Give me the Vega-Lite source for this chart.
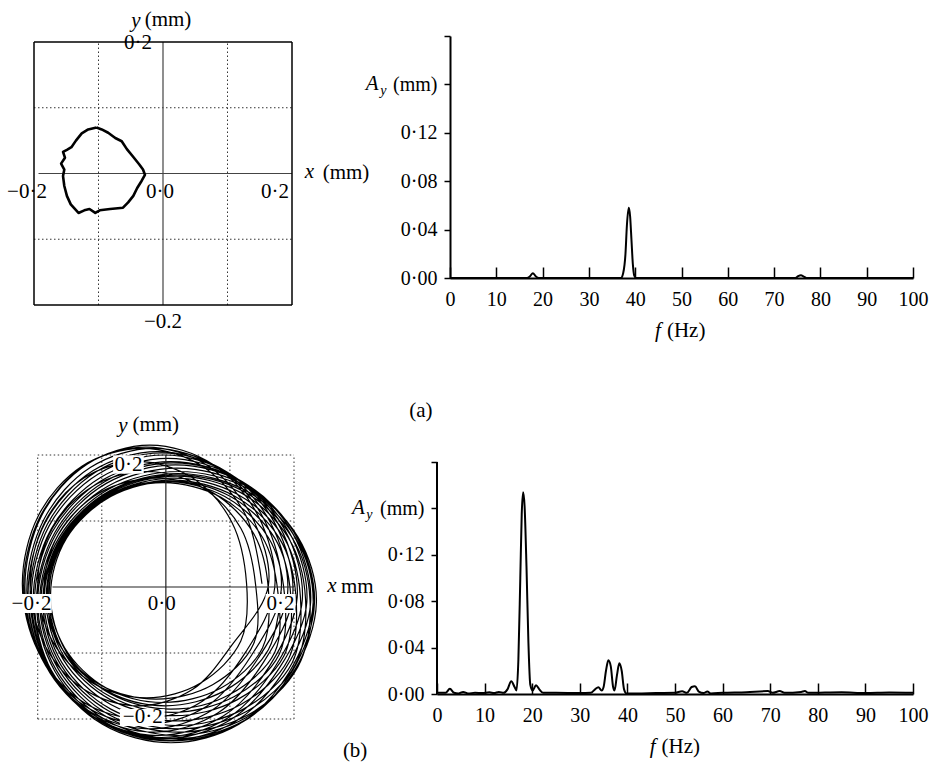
{
  "$schema": "https://vega.github.io/schema/vega-lite/v6.json",
  "padding": {"left": 7, "top": 8, "right": 4, "bottom": 4},
  "autosize": {"type": "pad"},
  "background": "white",
  "bounds": "flush",
  "spacing": 419,
  "config": {
    "view": {"stroke": null},
    "font": "Liberation Serif",
    "text": {"font": "Liberation Serif", "color": "black"},
    "axis": {"labelFont": "Liberation Serif", "labelColor": "black", "domainColor": "black", "tickColor": "black", "grid": false, "title": null, "labelFlush": false, "labelOverlap": false}
  },
  "datasets": {
    "frameA": [
      {"x": -0.2, "y": -0.2, "x2": 0.2, "y2": -0.2},
      {"x": -0.2, "y": 0.2, "x2": 0.2, "y2": 0.2},
      {"x": -0.2, "y": -0.2, "x2": -0.2, "y2": 0.2},
      {"x": 0.2, "y": -0.2, "x2": 0.2, "y2": 0.2}
    ],
    "gridA": [
      {"x": -0.1, "y": -0.2, "x2": -0.1, "y2": 0.2},
      {"x": 0.1, "y": -0.2, "x2": 0.1, "y2": 0.2},
      {"x": -0.2, "y": -0.1, "x2": 0.2, "y2": -0.1},
      {"x": -0.2, "y": 0.1, "x2": 0.2, "y2": 0.1}
    ],
    "axA": [
      {"x": 0, "y": -0.2, "x2": 0, "y2": 0.2},
      {"x": -0.193, "y": 0, "x2": 0.2, "y2": 0}
    ],
    "orbA": [
      {"i": 0, "x": -0.103, "y": 0.070}, {"i": 1, "x": -0.116, "y": 0.067}, {"i": 2, "x": -0.126, "y": 0.061},
      {"i": 3, "x": -0.135, "y": 0.050}, {"i": 4, "x": -0.142, "y": 0.040}, {"i": 5, "x": -0.149, "y": 0.036},
      {"i": 6, "x": -0.155, "y": 0.033}, {"i": 7, "x": -0.152, "y": 0.024}, {"i": 8, "x": -0.158, "y": 0.015},
      {"i": 9, "x": -0.153, "y": 0.006}, {"i": 10, "x": -0.155, "y": -0.004}, {"i": 11, "x": -0.153, "y": -0.019},
      {"i": 12, "x": -0.149, "y": -0.034}, {"i": 13, "x": -0.143, "y": -0.047}, {"i": 14, "x": -0.131, "y": -0.060},
      {"i": 15, "x": -0.122, "y": -0.056}, {"i": 16, "x": -0.114, "y": -0.054}, {"i": 17, "x": -0.105, "y": -0.060},
      {"i": 18, "x": -0.098, "y": -0.056}, {"i": 19, "x": -0.082, "y": -0.054}, {"i": 20, "x": -0.062, "y": -0.052},
      {"i": 21, "x": -0.054, "y": -0.044}, {"i": 22, "x": -0.046, "y": -0.034}, {"i": 23, "x": -0.040, "y": -0.022},
      {"i": 24, "x": -0.033, "y": -0.011}, {"i": 25, "x": -0.028, "y": -0.002}, {"i": 26, "x": -0.031, "y": 0.006},
      {"i": 27, "x": -0.037, "y": 0.014}, {"i": 28, "x": -0.046, "y": 0.025}, {"i": 29, "x": -0.056, "y": 0.037},
      {"i": 30, "x": -0.064, "y": 0.049}, {"i": 31, "x": -0.074, "y": 0.054}, {"i": 32, "x": -0.085, "y": 0.062},
      {"i": 33, "x": -0.095, "y": 0.067}, {"i": 34, "x": -0.103, "y": 0.070}
    ],
    "labA": [
      {"x": 0.0078, "y": 0.234, "t": "(mm)"},
      {"x": -0.0388, "y": 0.1985, "t": "0·2"},
      {"x": 0.0, "y": -0.226, "t": "−0.2"},
      {"x": -0.2109, "y": -0.0282, "t": "−0·2"},
      {"x": -0.0047, "y": -0.0282, "t": "0·0"},
      {"x": 0.1736, "y": -0.0282, "t": "0·2"},
      {"x": 0.2837, "y": 0.0, "t": "(mm)"}
    ],
    "itA": [
      {"x": -0.0419, "y": 0.232, "t": "y"},
      {"x": 0.2271, "y": 0.002, "t": "x"}
    ],
    "gridB": [
      {"x": -0.2, "y": -0.2, "x2": -0.2, "y2": 0.2},
      {"x": -0.1, "y": -0.2, "x2": -0.1, "y2": 0.2},
      {"x": 0.1, "y": -0.2, "x2": 0.1, "y2": 0.2},
      {"x": 0.2, "y": -0.2, "x2": 0.2, "y2": 0.2},
      {"x": -0.2, "y": -0.2, "x2": 0.2, "y2": -0.2},
      {"x": -0.2, "y": -0.1, "x2": 0.2, "y2": -0.1},
      {"x": -0.2, "y": 0.1, "x2": 0.2, "y2": 0.1},
      {"x": -0.2, "y": 0.2, "x2": 0.2, "y2": 0.2}
    ],
    "axB": [
      {"x": 0, "y": -0.2, "x2": 0, "y2": 0.2},
      {"x": -0.177, "y": 0, "x2": 0.2, "y2": 0}
    ],
    "orbB": [
      {"i": 0, "x": 0.150, "y": 0.005}, {"i": 1, "x": 0.125, "y": 0.108}, {"i": 2, "x": 0.057, "y": 0.183}, {"i": 3, "x": -0.037, "y": 0.210},
      {"i": 4, "x": -0.131, "y": 0.183}, {"i": 5, "x": -0.199, "y": 0.108}, {"i": 6, "x": -0.224, "y": 0.005}, {"i": 7, "x": -0.199, "y": -0.098},
      {"i": 8, "x": -0.131, "y": -0.173}, {"i": 9, "x": -0.037, "y": -0.200}, {"i": 10, "x": 0.057, "y": -0.173}, {"i": 11, "x": 0.125, "y": -0.098},
      {"i": 12, "x": 0.170, "y": 0.000}, {"i": 13, "x": 0.144, "y": 0.108}, {"i": 14, "x": 0.073, "y": 0.186}, {"i": 15, "x": -0.025, "y": 0.215},
      {"i": 16, "x": -0.123, "y": 0.186}, {"i": 17, "x": -0.194, "y": 0.108}, {"i": 18, "x": -0.220, "y": 0.000}, {"i": 19, "x": -0.194, "y": -0.108},
      {"i": 20, "x": -0.123, "y": -0.186}, {"i": 21, "x": -0.025, "y": -0.215}, {"i": 22, "x": 0.073, "y": -0.186}, {"i": 23, "x": 0.144, "y": -0.108},
      {"i": 24, "x": 0.190, "y": -0.010}, {"i": 25, "x": 0.163, "y": 0.098}, {"i": 26, "x": 0.089, "y": 0.176}, {"i": 27, "x": -0.013, "y": 0.205},
      {"i": 28, "x": -0.114, "y": 0.176}, {"i": 29, "x": -0.188, "y": 0.098}, {"i": 30, "x": -0.215, "y": -0.010}, {"i": 31, "x": -0.188, "y": -0.118},
      {"i": 32, "x": -0.114, "y": -0.196}, {"i": 33, "x": -0.013, "y": -0.225}, {"i": 34, "x": 0.089, "y": -0.196}, {"i": 35, "x": 0.163, "y": -0.118},
      {"i": 36, "x": 0.205, "y": -0.015}, {"i": 37, "x": 0.177, "y": 0.093}, {"i": 38, "x": 0.101, "y": 0.171}, {"i": 39, "x": -0.003, "y": 0.200},
      {"i": 40, "x": -0.106, "y": 0.171}, {"i": 41, "x": -0.182, "y": 0.093}, {"i": 42, "x": -0.210, "y": -0.015}, {"i": 43, "x": -0.182, "y": -0.123},
      {"i": 44, "x": -0.106, "y": -0.201}, {"i": 45, "x": -0.003, "y": -0.230}, {"i": 46, "x": 0.101, "y": -0.201}, {"i": 47, "x": 0.177, "y": -0.123},
      {"i": 48, "x": 0.220, "y": -0.023}, {"i": 49, "x": 0.192, "y": 0.084}, {"i": 50, "x": 0.114, "y": 0.162}, {"i": 51, "x": 0.008, "y": 0.190},
      {"i": 52, "x": -0.099, "y": 0.162}, {"i": 53, "x": -0.177, "y": 0.084}, {"i": 54, "x": -0.205, "y": -0.023}, {"i": 55, "x": -0.177, "y": -0.130},
      {"i": 56, "x": -0.099, "y": -0.208}, {"i": 57, "x": 0.008, "y": -0.236}, {"i": 58, "x": 0.114, "y": -0.208}, {"i": 59, "x": 0.192, "y": -0.130},
      {"i": 60, "x": 0.230, "y": -0.023}, {"i": 61, "x": 0.201, "y": 0.081}, {"i": 62, "x": 0.123, "y": 0.157}, {"i": 63, "x": 0.015, "y": 0.185},
      {"i": 64, "x": -0.093, "y": 0.157}, {"i": 65, "x": -0.171, "y": 0.081}, {"i": 66, "x": -0.200, "y": -0.023}, {"i": 67, "x": -0.171, "y": -0.126},
      {"i": 68, "x": -0.093, "y": -0.202}, {"i": 69, "x": 0.015, "y": -0.230}, {"i": 70, "x": 0.123, "y": -0.202}, {"i": 71, "x": 0.201, "y": -0.126},
      {"i": 72, "x": 0.235, "y": -0.023}, {"i": 73, "x": 0.206, "y": 0.076}, {"i": 74, "x": 0.128, "y": 0.149}, {"i": 75, "x": 0.020, "y": 0.175},
      {"i": 76, "x": -0.088, "y": 0.149}, {"i": 77, "x": -0.166, "y": 0.076}, {"i": 78, "x": -0.195, "y": -0.023}, {"i": 79, "x": -0.166, "y": -0.121},
      {"i": 80, "x": -0.088, "y": -0.194}, {"i": 81, "x": 0.020, "y": -0.220}, {"i": 82, "x": 0.128, "y": -0.194}, {"i": 83, "x": 0.206, "y": -0.121},
      {"i": 84, "x": 0.225, "y": -0.020}, {"i": 85, "x": 0.197, "y": 0.075}, {"i": 86, "x": 0.121, "y": 0.145}, {"i": 87, "x": 0.018, "y": 0.170},
      {"i": 88, "x": -0.086, "y": 0.145}, {"i": 89, "x": -0.162, "y": 0.075}, {"i": 90, "x": -0.190, "y": -0.020}, {"i": 91, "x": -0.162, "y": -0.115},
      {"i": 92, "x": -0.086, "y": -0.185}, {"i": 93, "x": 0.018, "y": -0.210}, {"i": 94, "x": 0.121, "y": -0.185}, {"i": 95, "x": 0.197, "y": -0.115},
      {"i": 96, "x": 0.210, "y": -0.015}, {"i": 97, "x": 0.184, "y": 0.075}, {"i": 98, "x": 0.111, "y": 0.141}, {"i": 99, "x": 0.013, "y": 0.165},
      {"i": 100, "x": -0.086, "y": 0.141}, {"i": 101, "x": -0.159, "y": 0.075}, {"i": 102, "x": -0.185, "y": -0.015}, {"i": 103, "x": -0.159, "y": -0.105},
      {"i": 104, "x": -0.086, "y": -0.171}, {"i": 105, "x": 0.013, "y": -0.195}, {"i": 106, "x": 0.111, "y": -0.171}, {"i": 107, "x": 0.184, "y": -0.105},
      {"i": 108, "x": 0.195, "y": -0.013}, {"i": 109, "x": 0.170, "y": 0.074}, {"i": 110, "x": 0.101, "y": 0.137}, {"i": 111, "x": 0.008, "y": 0.160},
      {"i": 112, "x": -0.086, "y": 0.137}, {"i": 113, "x": -0.155, "y": 0.074}, {"i": 114, "x": -0.180, "y": -0.013}, {"i": 115, "x": -0.155, "y": -0.099},
      {"i": 116, "x": -0.086, "y": -0.162}, {"i": 117, "x": 0.008, "y": -0.185}, {"i": 118, "x": 0.101, "y": -0.162}, {"i": 119, "x": 0.170, "y": -0.099},
      {"i": 120, "x": 0.175, "y": -0.009}, {"i": 121, "x": 0.151, "y": 0.075}, {"i": 122, "x": 0.086, "y": 0.136}, {"i": 123, "x": -0.004, "y": 0.158},
      {"i": 124, "x": -0.093, "y": 0.136}, {"i": 125, "x": -0.158, "y": 0.075}, {"i": 126, "x": -0.182, "y": -0.009}, {"i": 127, "x": -0.158, "y": -0.092},
      {"i": 128, "x": -0.093, "y": -0.153}, {"i": 129, "x": -0.004, "y": -0.175}, {"i": 130, "x": 0.086, "y": -0.153}, {"i": 131, "x": 0.151, "y": -0.092},
      {"i": 132, "x": 0.160, "y": -0.003}, {"i": 133, "x": 0.137, "y": 0.081}, {"i": 134, "x": 0.073, "y": 0.143}, {"i": 135, "x": -0.015, "y": 0.165},
      {"i": 136, "x": -0.103, "y": 0.143}, {"i": 137, "x": -0.167, "y": 0.081}, {"i": 138, "x": -0.190, "y": -0.003}, {"i": 139, "x": -0.167, "y": -0.086},
      {"i": 140, "x": -0.103, "y": -0.148}, {"i": 141, "x": -0.015, "y": -0.170}, {"i": 142, "x": 0.073, "y": -0.148}, {"i": 143, "x": 0.137, "y": -0.086},
      {"i": 144, "x": 0.140, "y": 0.004}, {"i": 145, "x": 0.117, "y": 0.089}, {"i": 146, "x": 0.055, "y": 0.152}, {"i": 147, "x": -0.030, "y": 0.175},
      {"i": 148, "x": -0.115, "y": 0.152}, {"i": 149, "x": -0.177, "y": 0.089}, {"i": 150, "x": -0.200, "y": 0.004}, {"i": 151, "x": -0.177, "y": -0.082},
      {"i": 152, "x": -0.115, "y": -0.145}, {"i": 153, "x": -0.030, "y": -0.168}, {"i": 154, "x": 0.055, "y": -0.145}, {"i": 155, "x": 0.117, "y": -0.082},
      {"i": 156, "x": 0.126, "y": 0.005}, {"i": 157, "x": 0.103, "y": 0.098}, {"i": 158, "x": 0.042, "y": 0.165}, {"i": 159, "x": -0.043, "y": 0.190},
      {"i": 160, "x": -0.128, "y": 0.165}, {"i": 161, "x": -0.189, "y": 0.098}, {"i": 162, "x": -0.212, "y": 0.005}, {"i": 163, "x": -0.189, "y": -0.088},
      {"i": 164, "x": -0.128, "y": -0.155}, {"i": 165, "x": -0.043, "y": -0.180}, {"i": 166, "x": 0.042, "y": -0.155}, {"i": 167, "x": 0.103, "y": -0.088},
      {"i": 169, "x": 0.160, "y": 0.002}, {"i": 170, "x": 0.134, "y": 0.107}, {"i": 171, "x": 0.065, "y": 0.184}, {"i": 172, "x": -0.031, "y": 0.212},
      {"i": 173, "x": -0.127, "y": 0.184}, {"i": 174, "x": -0.196, "y": 0.107}, {"i": 175, "x": -0.222, "y": 0.002}, {"i": 176, "x": -0.196, "y": -0.103},
      {"i": 177, "x": -0.127, "y": -0.180}, {"i": 178, "x": -0.031, "y": -0.208}, {"i": 179, "x": 0.065, "y": -0.180}, {"i": 180, "x": 0.134, "y": -0.103},
      {"i": 181, "x": 0.180, "y": -0.005}, {"i": 182, "x": 0.153, "y": 0.103}, {"i": 183, "x": 0.081, "y": 0.181}, {"i": 184, "x": -0.019, "y": 0.210},
      {"i": 185, "x": -0.118, "y": 0.181}, {"i": 186, "x": -0.190, "y": 0.103}, {"i": 187, "x": -0.217, "y": -0.005}, {"i": 188, "x": -0.190, "y": -0.113},
      {"i": 189, "x": -0.118, "y": -0.191}, {"i": 190, "x": -0.019, "y": -0.220}, {"i": 191, "x": 0.081, "y": -0.191}, {"i": 192, "x": 0.153, "y": -0.113},
      {"i": 193, "x": 0.198, "y": -0.013}, {"i": 194, "x": 0.171, "y": 0.095}, {"i": 195, "x": 0.096, "y": 0.174}, {"i": 196, "x": -0.007, "y": 0.203},
      {"i": 197, "x": -0.110, "y": 0.174}, {"i": 198, "x": -0.185, "y": 0.095}, {"i": 199, "x": -0.212, "y": -0.013}, {"i": 200, "x": -0.185, "y": -0.120},
      {"i": 201, "x": -0.110, "y": -0.199}, {"i": 202, "x": -0.007, "y": -0.228}, {"i": 203, "x": 0.096, "y": -0.199}, {"i": 204, "x": 0.171, "y": -0.120},
      {"i": 205, "x": 0.213, "y": -0.019}, {"i": 206, "x": 0.185, "y": 0.088}, {"i": 207, "x": 0.108, "y": 0.166}, {"i": 208, "x": 0.003, "y": 0.195},
      {"i": 209, "x": -0.102, "y": 0.166}, {"i": 210, "x": -0.179, "y": 0.088}, {"i": 211, "x": -0.207, "y": -0.019}, {"i": 212, "x": -0.179, "y": -0.126},
      {"i": 213, "x": -0.102, "y": -0.204}, {"i": 214, "x": 0.003, "y": -0.233}, {"i": 215, "x": 0.108, "y": -0.204}, {"i": 216, "x": 0.185, "y": -0.126},
      {"i": 217, "x": 0.226, "y": -0.023}, {"i": 218, "x": 0.197, "y": 0.083}, {"i": 219, "x": 0.119, "y": 0.160}, {"i": 220, "x": 0.012, "y": 0.188},
      {"i": 221, "x": -0.095, "y": 0.160}, {"i": 222, "x": -0.173, "y": 0.083}, {"i": 223, "x": -0.202, "y": -0.023}, {"i": 224, "x": -0.173, "y": -0.128},
      {"i": 225, "x": -0.095, "y": -0.205}, {"i": 226, "x": 0.012, "y": -0.233}, {"i": 227, "x": 0.119, "y": -0.205}, {"i": 228, "x": 0.197, "y": -0.128},
      {"i": 229, "x": 0.232, "y": -0.023}, {"i": 230, "x": 0.203, "y": 0.079}, {"i": 231, "x": 0.125, "y": 0.153}, {"i": 232, "x": 0.018, "y": 0.180},
      {"i": 233, "x": -0.090, "y": 0.153}, {"i": 234, "x": -0.168, "y": 0.079}, {"i": 235, "x": -0.197, "y": -0.023}, {"i": 236, "x": -0.168, "y": -0.124},
      {"i": 237, "x": -0.090, "y": -0.198}, {"i": 238, "x": 0.018, "y": -0.225}, {"i": 239, "x": 0.125, "y": -0.198}, {"i": 240, "x": 0.203, "y": -0.124},
      {"i": 241, "x": 0.230, "y": -0.022}, {"i": 242, "x": 0.202, "y": 0.075}, {"i": 243, "x": 0.125, "y": 0.146}, {"i": 244, "x": 0.019, "y": 0.172},
      {"i": 245, "x": -0.087, "y": 0.146}, {"i": 246, "x": -0.164, "y": 0.075}, {"i": 247, "x": -0.192, "y": -0.022}, {"i": 248, "x": -0.164, "y": -0.118},
      {"i": 249, "x": -0.087, "y": -0.189}, {"i": 250, "x": 0.019, "y": -0.215}, {"i": 251, "x": 0.125, "y": -0.189}, {"i": 252, "x": 0.202, "y": -0.118},
      {"i": 253, "x": 0.218, "y": -0.018}, {"i": 254, "x": 0.191, "y": 0.075}, {"i": 255, "x": 0.117, "y": 0.143}, {"i": 256, "x": 0.016, "y": 0.168},
      {"i": 257, "x": -0.086, "y": 0.143}, {"i": 258, "x": -0.160, "y": 0.075}, {"i": 259, "x": -0.187, "y": -0.018}, {"i": 260, "x": -0.160, "y": -0.110},
      {"i": 261, "x": -0.086, "y": -0.178}, {"i": 262, "x": 0.016, "y": -0.203}, {"i": 263, "x": 0.117, "y": -0.178}, {"i": 264, "x": 0.191, "y": -0.110},
      {"i": 265, "x": 0.203, "y": -0.014}, {"i": 266, "x": 0.177, "y": 0.074}, {"i": 267, "x": 0.107, "y": 0.138}, {"i": 268, "x": 0.010, "y": 0.162},
      {"i": 269, "x": -0.087, "y": 0.138}, {"i": 270, "x": -0.157, "y": 0.074}, {"i": 271, "x": -0.183, "y": -0.014}, {"i": 272, "x": -0.157, "y": -0.102},
      {"i": 273, "x": -0.087, "y": -0.166}, {"i": 274, "x": 0.010, "y": -0.190}, {"i": 275, "x": 0.107, "y": -0.166}, {"i": 276, "x": 0.177, "y": -0.102},
      {"i": 277, "x": 0.185, "y": -0.010}, {"i": 278, "x": 0.160, "y": 0.075}, {"i": 279, "x": 0.092, "y": 0.137}, {"i": 280, "x": -0.001, "y": 0.160},
      {"i": 281, "x": -0.093, "y": 0.137}, {"i": 282, "x": -0.161, "y": 0.075}, {"i": 283, "x": -0.186, "y": -0.010}, {"i": 284, "x": -0.161, "y": -0.095},
      {"i": 285, "x": -0.093, "y": -0.157}, {"i": 286, "x": -0.001, "y": -0.180}, {"i": 287, "x": 0.092, "y": -0.157}, {"i": 288, "x": 0.160, "y": -0.095},
      {"i": 289, "x": 0.180, "y": -0.008}
    ],
    "boxB": [
      {"x": -0.0823, "x2": -0.0345, "y": 0.1995, "y2": 0.1717},
      {"x": -0.0718, "x2": -0.0017, "y": -0.1848, "y2": -0.2106},
      {"x": -0.2250, "x2": -0.1780, "y": -0.0106, "y2": -0.0394},
      {"x": 0.1556, "x2": 0.2023, "y": -0.0106, "y2": -0.0394}
    ],
    "labB": [
      {"x": -0.0158, "y": 0.2455, "t": "(mm)"},
      {"x": -0.0583, "y": 0.1856, "t": "0·2"},
      {"x": -0.0360, "y": -0.1977, "t": "−0·2"},
      {"x": -0.2097, "y": -0.0250, "t": "−0·2"},
      {"x": -0.0064, "y": -0.0258, "t": "0·0"},
      {"x": 0.1789, "y": -0.0258, "t": "0·2"},
      {"x": 0.2989, "y": 0.0, "t": "mm"}
    ],
    "itB": [
      {"x": -0.0672, "y": 0.2435, "t": "y"},
      {"x": 0.2592, "y": 0.002, "t": "x"}
    ],
    "specA": [
      {"f": 0, "a": 0}, {"f": 16.6, "a": 0}, {"f": 17.3, "a": 0.0015}, {"f": 17.9, "a": 0.004}, {"f": 18.5, "a": 0.0015},
      {"f": 19.2, "a": 0}, {"f": 36.9, "a": 0}, {"f": 37.4, "a": 0.004}, {"f": 37.9, "a": 0.02}, {"f": 38.2, "a": 0.043},
      {"f": 38.6, "a": 0.058}, {"f": 38.9, "a": 0.051}, {"f": 39.2, "a": 0.031}, {"f": 39.5, "a": 0.011}, {"f": 39.8, "a": 0.002},
      {"f": 40.2, "a": 0}, {"f": 74.6, "a": 0}, {"f": 75.2, "a": 0.0015}, {"f": 75.8, "a": 0.0022}, {"f": 76.4, "a": 0.0012},
      {"f": 77, "a": 0}, {"f": 100, "a": 0}
    ],
    "txtA": [
      {"f": 51.0, "a": -0.0439, "t": "(Hz)"},
      {"f": -6.3, "a": -0.110, "t": "(a)"}
    ],
    "itxA": [
      {"f": 44.9, "a": -0.0439, "t": "f"},
      {"f": -16.8, "a": 0.1605, "t": "A"}
    ],
    "subA": [
      {"f": -14.4, "a": 0.1545, "t": "y"}
    ],
    "specB": [
      {"f": 0, "a": 0.001}, {"f": 1.8, "a": 0.001}, {"f": 2.7, "a": 0.0045}, {"f": 3.6, "a": 0.001}, {"f": 4.5, "a": 0.0005},
      {"f": 5.5, "a": 0.0018}, {"f": 6.5, "a": 0.0005}, {"f": 8, "a": 0.001}, {"f": 9.5, "a": 0.0008}, {"f": 11, "a": 0.0015},
      {"f": 12, "a": 0.0008}, {"f": 13, "a": 0.0018}, {"f": 14, "a": 0.001}, {"f": 14.8, "a": 0.004}, {"f": 15.6, "a": 0.011},
      {"f": 16.3, "a": 0.006}, {"f": 16.7, "a": 0.003}, {"f": 17.1, "a": 0.03}, {"f": 17.5, "a": 0.10}, {"f": 17.8, "a": 0.155},
      {"f": 18.1, "a": 0.174}, {"f": 18.4, "a": 0.162}, {"f": 18.8, "a": 0.11}, {"f": 19.2, "a": 0.045}, {"f": 19.6, "a": 0.008},
      {"f": 20.1, "a": 0.003}, {"f": 20.8, "a": 0.0075}, {"f": 21.5, "a": 0.004}, {"f": 22.3, "a": 0.001}, {"f": 25, "a": 0.001},
      {"f": 30, "a": 0.0008}, {"f": 32.3, "a": 0.001}, {"f": 33.2, "a": 0.004}, {"f": 33.9, "a": 0.0058}, {"f": 34.6, "a": 0.003},
      {"f": 35.0, "a": 0.006}, {"f": 35.5, "a": 0.020}, {"f": 36.0, "a": 0.029}, {"f": 36.5, "a": 0.024}, {"f": 37.0, "a": 0.006},
      {"f": 37.3, "a": 0.003}, {"f": 37.8, "a": 0.016}, {"f": 38.3, "a": 0.0264}, {"f": 38.8, "a": 0.020}, {"f": 39.3, "a": 0.004},
      {"f": 39.8, "a": 0.0005}, {"f": 42, "a": 0.0005}, {"f": 46, "a": 0.0008}, {"f": 50, "a": 0.001}, {"f": 51.5, "a": 0.0024},
      {"f": 52.5, "a": 0.001}, {"f": 53.5, "a": 0.006}, {"f": 54.2, "a": 0.0066}, {"f": 55.0, "a": 0.002}, {"f": 56.0, "a": 0.0008},
      {"f": 56.8, "a": 0.0022}, {"f": 57.5, "a": 0.0005}, {"f": 60, "a": 0.001}, {"f": 65, "a": 0.0015}, {"f": 69.5, "a": 0.0025},
      {"f": 70.5, "a": 0.001}, {"f": 72, "a": 0.0025}, {"f": 73, "a": 0.001}, {"f": 76.5, "a": 0.0018}, {"f": 77.3, "a": 0.0025},
      {"f": 78, "a": 0.001}, {"f": 85, "a": 0.0015}, {"f": 90, "a": 0.0008}, {"f": 95, "a": 0.0012}, {"f": 100, "a": 0.001}
    ],
    "yaxB": [{"f": 0, "a": 0, "a2": 0.2}],
    "txtB": [
      {"f": 51.2, "a": -0.0454, "t": "(Hz)"},
      {"f": -17.2, "a": -0.0489, "t": "(b)"}
    ],
    "itxB": [
      {"f": 45.3, "a": -0.0454, "t": "f"},
      {"f": -16.5, "a": 0.1605, "t": "A"}
    ],
    "subB": [
      {"f": -14.2, "a": 0.1545, "t": "y"}
    ]
  },
  "vconcat": [
    {
      "bounds": "flush",
      "spacing": 158,
      "hconcat": [
        {
          "width": 258,
          "height": 269,
          "encoding": {
            "x": {"field": "x", "type": "quantitative", "scale": {"domain": [-0.2, 0.2], "nice": false, "zero": false}, "axis": null},
            "y": {"field": "y", "type": "quantitative", "scale": {"domain": [-0.2, 0.2091], "nice": false, "zero": false}, "axis": null}
          },
          "layer": [
            {"data": {"name": "gridA"}, "mark": {"type": "rule", "color": "#333", "strokeWidth": 1, "strokeDash": [1.5, 2.5]}, "encoding": {"x2": {"field": "x2"}, "y2": {"field": "y2"}}},
            {"data": {"name": "axA"}, "mark": {"type": "rule", "color": "#444", "strokeWidth": 1.2}, "encoding": {"x2": {"field": "x2"}, "y2": {"field": "y2"}}},
            {"data": {"name": "frameA"}, "mark": {"type": "rule", "color": "black", "strokeWidth": 1.5}, "encoding": {"x2": {"field": "x2"}, "y2": {"field": "y2"}}},
            {"data": {"name": "orbA"}, "mark": {"type": "line", "color": "black", "strokeWidth": 2.6, "strokeJoin": "round"}, "encoding": {"order": {"field": "i", "type": "quantitative"}}},
            {"data": {"name": "labA"}, "mark": {"type": "text", "fontSize": 21, "baseline": "middle"}, "encoding": {"text": {"field": "t"}}},
            {"data": {"name": "itA"}, "mark": {"type": "text", "fontSize": 21, "fontStyle": "italic", "baseline": "middle"}, "encoding": {"text": {"field": "t"}}}
          ]
        },
        {
          "width": 463,
          "height": 242,
          "encoding": {
            "x": {"field": "f", "type": "quantitative", "scale": {"domain": [0, 100], "nice": false, "zero": false},
              "axis": {"values": [0, 10, 20, 30, 40, 50, 60, 70, 80, 90, 100], "format": "d", "tickSize": -11, "tickWidth": 1.5, "labelPadding": 22, "labelFontSize": 20, "domainWidth": 2, "labelAngle": 0}},
            "y": {"field": "a", "type": "quantitative", "scale": {"domain": [0, 0.2], "nice": false, "zero": false},
              "axis": {"values": [0, 0.04, 0.08, 0.12, 0.16, 0.2], "labelExpr": "datum.value > 0.19 ? '' : datum.value > 0.15 ? '(mm)' : replace(format(datum.value, '.2f'), '.', '·')", "tickSize": 6, "tickWidth": 1.5, "labelPadding": 7, "labelFontSize": 20, "domainWidth": 2}}
          },
          "layer": [
            {"data": {"name": "specA"}, "mark": {"type": "line", "color": "black", "strokeWidth": 2, "interpolate": "monotone"}},
            {"data": {"name": "txtA"}, "mark": {"type": "text", "fontSize": 21}, "encoding": {"text": {"field": "t"}}},
            {"data": {"name": "itxA"}, "mark": {"type": "text", "fontSize": 21, "fontStyle": "italic"}, "encoding": {"text": {"field": "t"}}},
            {"data": {"name": "subA"}, "mark": {"type": "text", "fontSize": 14, "fontStyle": "italic"}, "encoding": {"text": {"field": "t"}}}
          ]
        }
      ]
    },
    {
      "bounds": "flush",
      "spacing": 143,
      "hconcat": [
        {
          "width": 260,
          "height": 264,
          "encoding": {
            "x": {"field": "x", "type": "quantitative", "scale": {"domain": [-0.2058, 0.2], "nice": false, "zero": false}, "axis": null},
            "y": {"field": "y", "type": "quantitative", "scale": {"domain": [-0.2, 0.2], "nice": false, "zero": false}, "axis": null}
          },
          "layer": [
            {"data": {"name": "gridB"}, "mark": {"type": "rule", "color": "#333", "strokeWidth": 1, "strokeDash": [1.5, 2.5]}, "encoding": {"x2": {"field": "x2"}, "y2": {"field": "y2"}}},
            {"data": {"name": "orbB"}, "mark": {"type": "line", "color": "black", "strokeWidth": 1.2, "interpolate": "cardinal"}, "encoding": {"order": {"field": "i", "type": "quantitative"}}},
            {"data": {"name": "axB"}, "mark": {"type": "rule", "color": "#222", "strokeWidth": 1.2}, "encoding": {"x2": {"field": "x2"}, "y2": {"field": "y2"}}},
            {"data": {"name": "boxB"}, "mark": {"type": "rect", "color": "white"}, "encoding": {"x2": {"field": "x2"}, "y2": {"field": "y2"}}},
            {"data": {"name": "labB"}, "mark": {"type": "text", "fontSize": 21, "baseline": "middle"}, "encoding": {"text": {"field": "t"}}},
            {"data": {"name": "itB"}, "mark": {"type": "text", "fontSize": 21, "fontStyle": "italic", "baseline": "middle"}, "encoding": {"text": {"field": "t"}}}
          ]
        },
        {
          "width": 476,
          "height": 239,
          "encoding": {
            "x": {"field": "f", "type": "quantitative", "scale": {"domain": [0, 100], "nice": false, "zero": false},
              "axis": {"values": [0, 10, 20, 30, 40, 50, 60, 70, 80, 90, 100], "format": "d", "tickSize": -11, "tickWidth": 1.5, "labelPadding": 22, "labelFontSize": 20, "domainWidth": 2, "labelAngle": 0}},
            "y": {"field": "a", "type": "quantitative", "scale": {"domain": [0, 0.206], "nice": false, "zero": false},
              "axis": {"values": [0, 0.04, 0.08, 0.12, 0.16, 0.2], "labelExpr": "datum.value > 0.19 ? '' : datum.value > 0.15 ? '(mm)' : replace(format(datum.value, '.2f'), '.', '·')", "tickSize": 6, "tickWidth": 1.5, "labelPadding": 7, "labelFontSize": 20, "domain": false}}
          },
          "layer": [
            {"data": {"name": "yaxB"}, "mark": {"type": "rule", "color": "black", "strokeWidth": 2}, "encoding": {"y2": {"field": "a2"}}},
            {"data": {"name": "specB"}, "mark": {"type": "line", "color": "black", "strokeWidth": 2, "interpolate": "monotone"}},
            {"data": {"name": "txtB"}, "mark": {"type": "text", "fontSize": 21}, "encoding": {"text": {"field": "t"}}},
            {"data": {"name": "itxB"}, "mark": {"type": "text", "fontSize": 21, "fontStyle": "italic"}, "encoding": {"text": {"field": "t"}}},
            {"data": {"name": "subB"}, "mark": {"type": "text", "fontSize": 14, "fontStyle": "italic"}, "encoding": {"text": {"field": "t"}}}
          ]
        }
      ]
    }
  ]
}
